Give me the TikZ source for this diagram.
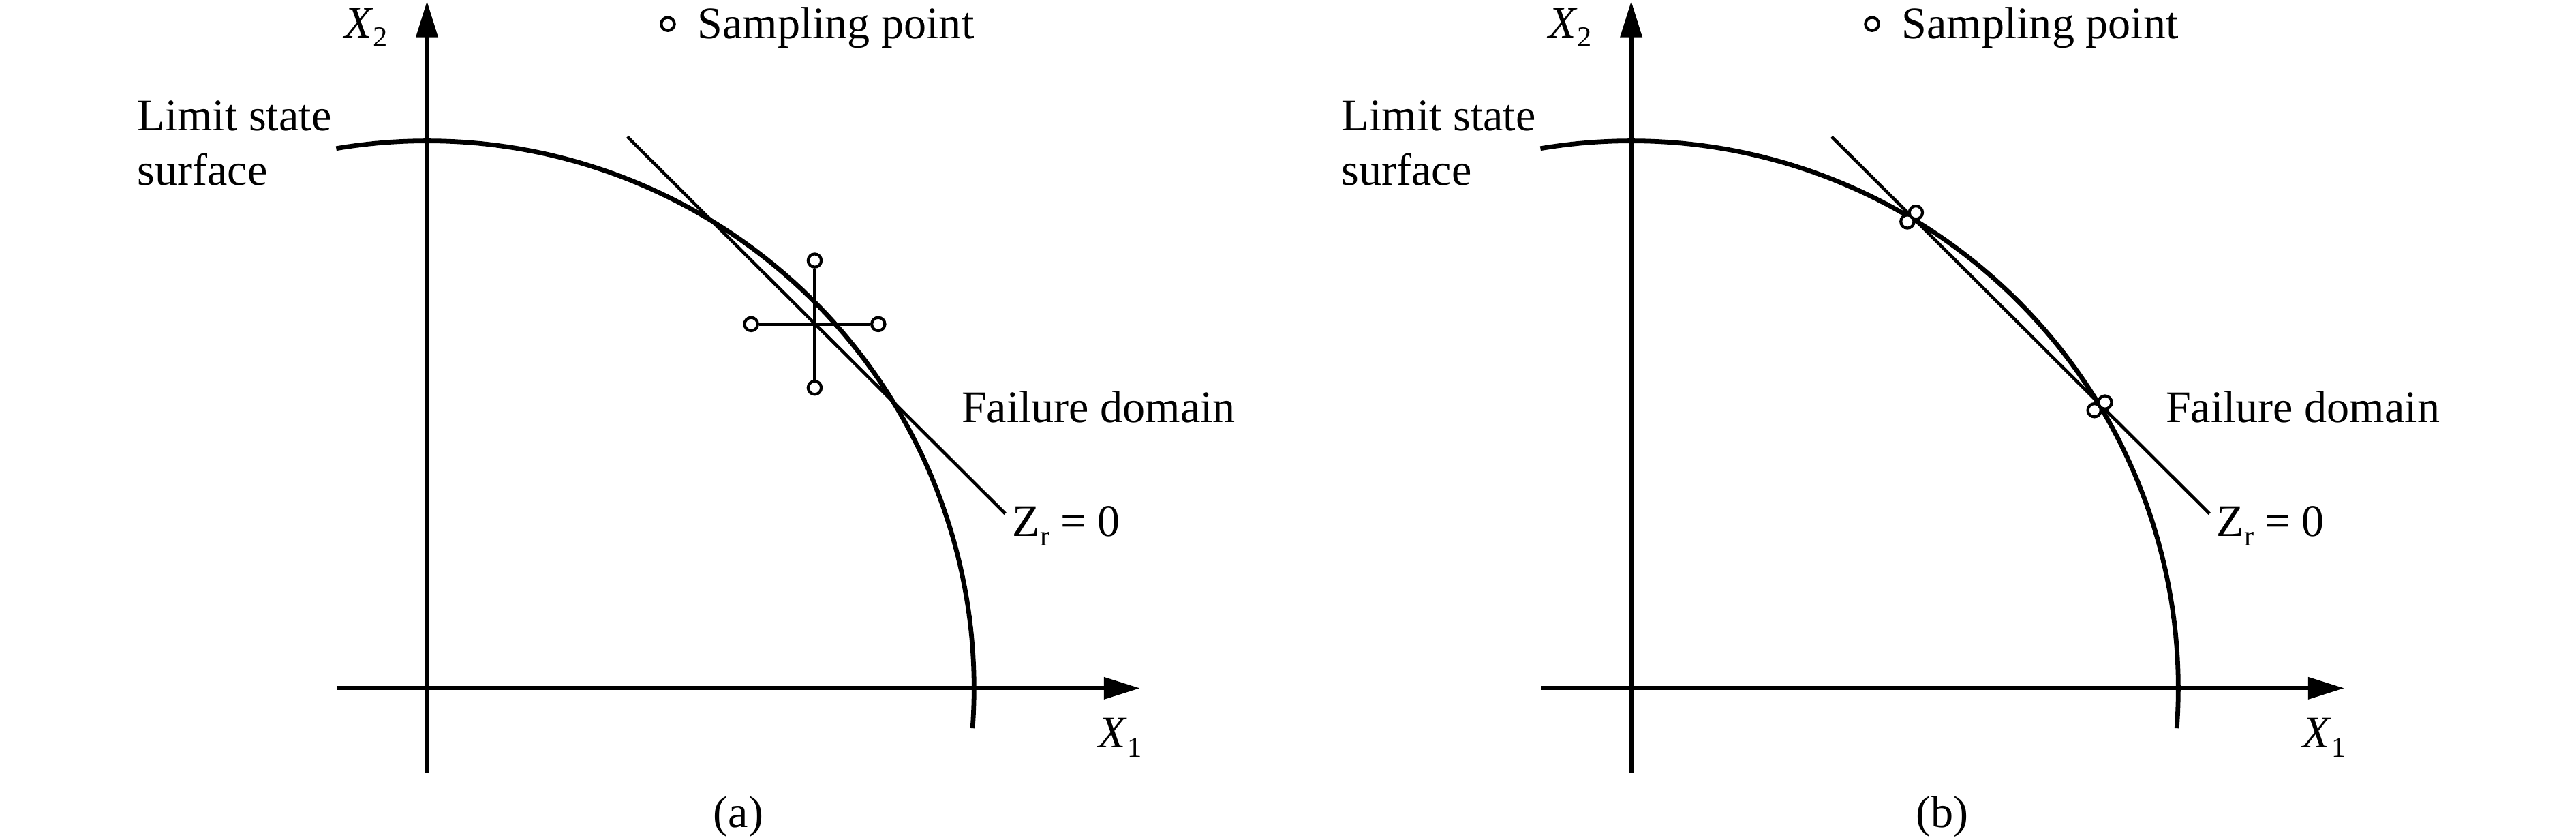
\documentclass[tikz,border=0pt]{standalone}
\usepackage{fontspec}
\setmainfont{Liberation Serif}
\usetikzlibrary{arrows.meta}
\newcommand{\lowsub}[1]{\raisebox{-0.45ex}{\fontsize{5}{6}\selectfont #1}}
\begin{document}
\begin{tikzpicture}[
  lbl/.style = {inner sep = 0pt, font = \rmfamily\fontsize{7.8}{9.5}\selectfont},
  axis/.style = {line width = 0.7pt, -{Triangle[length = 2.2mm, width = 1.3mm]}},
  curve/.style = {line width = 0.8pt},
  zline/.style = {line width = 0.55pt},
  cross/.style = {line width = 0.6pt},
  spt/.style = {circle, draw, fill = white, line width = 0.5pt, minimum size = 0.8mm, inner sep = 0pt}
]
\useasboundingbox (-2.599,-0.911) rectangle (13.081,4.187);
\pgfmathsetmacro\rad{3.33};
\foreach \sx/\lab in {0/a, 7.33/b} {
\begin{scope}[xshift = \sx cm]
\coordinate (x0\lab) at (-0.55,0);
\coordinate (x1\lab) at (4.34,0);
\coordinate (y0\lab) at (0,-0.513);
\coordinate (y1\lab) at (0,4.18);
\draw [axis] (x0\lab) -- (x1\lab);
\draw [axis] (y0\lab) -- (y1\lab);
\draw [curve] (99.55:\rad) arc [start angle = 99.55, end angle = -4.2, radius = \rad];
\coordinate (zs\lab) at (1.22,3.355);
\coordinate (ze\lab) at (3.52,1.062);
\draw [zline] (zs\lab) -- (ze\lab);
\node [spt] (leg\lab) at (1.466,4.041) {};
\node [lbl, anchor = base west] (legt\lab) at (1.640,3.953) {Sampling point};
\node [lbl, anchor = base west] (xtwo\lab) at (-0.511,3.958) {\textit{X}\lowsub{2}};
\node [lbl, anchor = base west] (xone\lab) at (4.080,-0.363) {\textit{X}\lowsub{1}};
\node [lbl, anchor = base west, align = left] (lss\lab) at (-1.769,3.060) {Limit state\\surface};
\node [lbl, anchor = base west] (fd\lab) at (3.247,1.618) {Failure domain};
\node [lbl, anchor = base west] (zr\lab) at (3.557,0.923) {Z\lowsub{r} = 0};
\node [lbl, anchor = base] (cap\lab) at (1.895,-0.846) {(\lab)};
\end{scope}
}
\node [spt] (pN) at (2.36,2.602) {};
\node [spt] (pS) at (2.36,1.828) {};
\node [spt] (pW) at (1.973,2.215) {};
\node [spt] (pE) at (2.747,2.215) {};
\draw [cross] (pW) -- (pE);
\draw [cross] (pN) -- (pS);
\begin{scope}[xshift = 7.33cm]
\node [spt] (qa) at (1.681,2.839) {};
\node [spt] (qb) at (1.733,2.894) {};
\node [spt] (qc) at (2.819,1.691) {};
\node [spt] (qd) at (2.884,1.739) {};
\end{scope}
\end{tikzpicture}
\end{document}
